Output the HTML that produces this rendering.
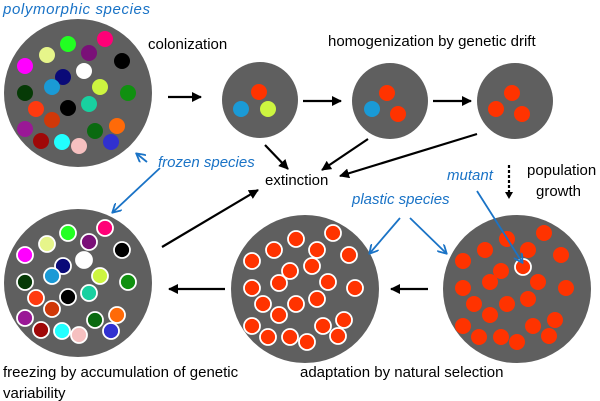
<!DOCTYPE html>
<html><head><meta charset="utf-8"><style>
body{margin:0;background:#fff;}
svg{display:block;font-family:"Liberation Sans",sans-serif;}
</style></head><body>
<svg width="600" height="401" viewBox="0 0 600 401" xmlns="http://www.w3.org/2000/svg">
<defs>
<marker id="ah" markerWidth="10" markerHeight="10" refX="9" refY="5" orient="auto" markerUnits="userSpaceOnUse"><path d="M0,0 L10,5 L0,10 z" fill="#000"/></marker>
<marker id="bh" markerWidth="10" markerHeight="10" refX="8" refY="5" orient="auto" markerUnits="userSpaceOnUse"><path d="M0,0 L9,5 L0,10" fill="none" stroke="#1a73c6" stroke-width="1.8"/></marker>
</defs>
<circle cx="78" cy="93" r="74" fill="#5f5f5f"/>
<circle cx="78" cy="283" r="74" fill="#5f5f5f"/>
<circle cx="305" cy="289" r="74" fill="#5f5f5f"/>
<circle cx="517" cy="289" r="74" fill="#5f5f5f"/>
<circle cx="260" cy="100" r="38" fill="#5f5f5f"/>
<circle cx="390" cy="101" r="38" fill="#5f5f5f"/>
<circle cx="515" cy="101" r="38" fill="#5f5f5f"/>
<g id="poly">
<circle cx="25" cy="66" r="8" fill="#ff00ff"/>
<circle cx="68" cy="44" r="8" fill="#22ff22"/>
<circle cx="105" cy="39" r="8" fill="#ff0077"/>
<circle cx="47" cy="55" r="8" fill="#e6f58a"/>
<circle cx="89" cy="53" r="8" fill="#7a1078"/>
<circle cx="122" cy="61" r="8" fill="#000"/>
<circle cx="63" cy="77" r="8" fill="#0a0a78"/>
<circle cx="84" cy="71" r="8" fill="#fff"/>
<circle cx="52" cy="87" r="8" fill="#1a9ad6"/>
<circle cx="100" cy="87" r="8" fill="#cdf540"/>
<circle cx="128" cy="93" r="8" fill="#109010"/>
<circle cx="25" cy="93" r="8" fill="#063a06"/>
<circle cx="36" cy="109" r="8" fill="#ff3a10"/>
<circle cx="68" cy="108" r="8" fill="#000"/>
<circle cx="89" cy="104" r="8" fill="#18d0a0"/>
<circle cx="52" cy="120" r="8" fill="#d03808"/>
<circle cx="25" cy="129" r="8" fill="#9a1896"/>
<circle cx="95" cy="131" r="8" fill="#0a6a10"/>
<circle cx="117" cy="126" r="8" fill="#ff6a08"/>
<circle cx="41" cy="141" r="8" fill="#a00808"/>
<circle cx="62" cy="142" r="8" fill="#22ffff"/>
<circle cx="79" cy="146" r="8" fill="#f6c0c0"/>
<circle cx="111" cy="142" r="8" fill="#3030d0"/>
</g>
<use href="#poly" transform="translate(0,189)" stroke="#fff" stroke-width="1.8"/>
<circle cx="259" cy="92" r="8" fill="#ff3300"/><circle cx="241" cy="109" r="8" fill="#1a9ad6"/><circle cx="268" cy="109" r="8" fill="#cdf540"/>
<circle cx="387" cy="93" r="8" fill="#ff3300"/><circle cx="372" cy="109" r="8" fill="#1a9ad6"/><circle cx="398" cy="114" r="8" fill="#ff3300"/>
<circle cx="512" cy="93" r="8" fill="#ff3300"/><circle cx="496" cy="109" r="8" fill="#ff3300"/><circle cx="522" cy="114" r="8" fill="#ff3300"/>
<g fill="#ff3300" stroke="#fff" stroke-width="1.8">
<circle cx="252" cy="261" r="8"/><circle cx="274" cy="250" r="8"/><circle cx="296" cy="239" r="8"/><circle cx="333" cy="233" r="8"/><circle cx="317" cy="250" r="8"/><circle cx="349" cy="255" r="8"/><circle cx="312" cy="266" r="8"/><circle cx="290" cy="271" r="8"/><circle cx="252" cy="288" r="8"/><circle cx="279" cy="283" r="8"/><circle cx="328" cy="282" r="8"/><circle cx="355" cy="288" r="8"/><circle cx="263" cy="304" r="8"/><circle cx="296" cy="304" r="8"/><circle cx="317" cy="299" r="8"/><circle cx="279" cy="315" r="8"/><circle cx="252" cy="326" r="8"/><circle cx="268" cy="337" r="8"/><circle cx="290" cy="337" r="8"/><circle cx="307" cy="342" r="8"/><circle cx="323" cy="326" r="8"/><circle cx="344" cy="320" r="8"/><circle cx="338" cy="336" r="8"/>
</g>
<g fill="#ff3300">
<circle cx="507" cy="239" r="8"/><circle cx="544" cy="233" r="8"/><circle cx="485" cy="250" r="8"/><circle cx="528" cy="250" r="8"/><circle cx="561" cy="255" r="8"/><circle cx="463" cy="261" r="8"/><circle cx="501" cy="271" r="8"/><circle cx="490" cy="282" r="8"/><circle cx="538" cy="282" r="8"/><circle cx="463" cy="288" r="8"/><circle cx="566" cy="288" r="8"/><circle cx="474" cy="304" r="8"/><circle cx="507" cy="304" r="8"/><circle cx="528" cy="299" r="8"/><circle cx="490" cy="315" r="8"/><circle cx="463" cy="326" r="8"/><circle cx="479" cy="337" r="8"/><circle cx="501" cy="337" r="8"/><circle cx="517" cy="342" r="8"/><circle cx="533" cy="326" r="8"/><circle cx="555" cy="320" r="8"/><circle cx="549" cy="336" r="8"/>
<circle cx="523" cy="267" r="8" stroke="#fff" stroke-width="1.8"/>
</g>
<g stroke="#000" stroke-width="2.2" marker-end="url(#ah)">
<line x1="168" y1="97" x2="201" y2="97"/>
<line x1="303" y1="101" x2="341" y2="101"/>
<line x1="433" y1="101" x2="471" y2="101"/>
<line x1="265" y1="145" x2="288" y2="169"/>
<line x1="368" y1="139" x2="322" y2="170"/>
<line x1="477" y1="134" x2="340" y2="176"/>
<line x1="162" y1="247" x2="258" y2="190"/>
<line x1="428" y1="289" x2="391" y2="289"/>
<line x1="225" y1="289" x2="169" y2="289"/>
</g>
<line x1="509" y1="165" x2="509" y2="193" stroke="#000" stroke-width="2.2" stroke-dasharray="3,2"/>
<path d="M505,192 L513,192 L509,199 z" fill="#000"/>
<g stroke="#1a73c6" stroke-width="1.8" marker-end="url(#bh)" fill="none">
<line x1="400" y1="218" x2="370" y2="253"/>
<line x1="410" y1="218" x2="446" y2="253"/>
<line x1="477" y1="191" x2="522" y2="262"/>
<line x1="160" y1="168" x2="113" y2="212"/>
<line x1="147" y1="162" x2="137" y2="154"/>
</g>
<g font-size="15" fill="#000">
<text x="148" y="49">colonization</text>
<text x="328" y="46">homogenization by genetic drift</text>
<text x="265" y="185">extinction</text>
<text x="527" y="175">population</text>
<text x="536" y="196">growth</text>
<text x="3" y="377">freezing by accumulation of genetic</text>
<text x="3" y="398">variability</text>
<text x="300" y="377">adaptation by natural selection</text>
</g>
<g font-size="15" fill="#1a73c6" font-style="italic">
<text x="3" y="14" textLength="147" lengthAdjust="spacing">polymorphic species</text>
<text x="158" y="167">frozen species</text>
<text x="447" y="180">mutant</text>
<text x="352" y="204">plastic species</text>
</g>
</svg>
</body></html>
